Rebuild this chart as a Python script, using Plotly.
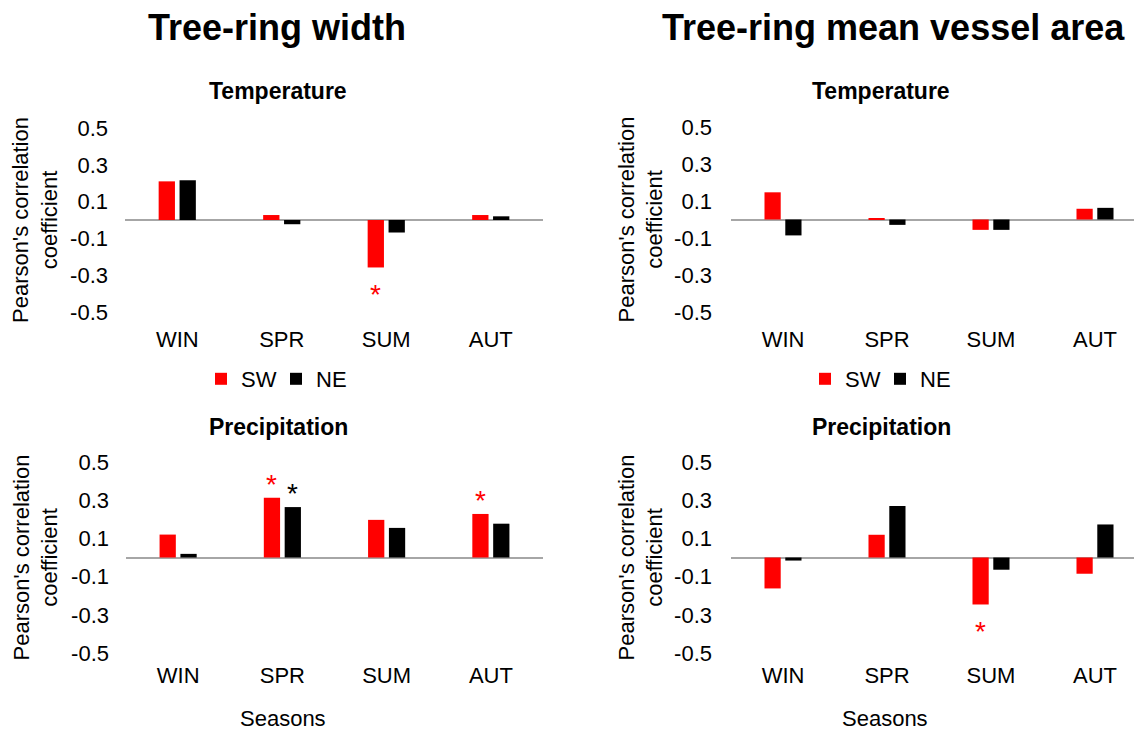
import plotly.graph_objects as go

# ---------------- data ----------------
seasons = ["WIN", "SPR", "SUM", "AUT"]
series_names = ["SW", "NE"]

# Tree-ring width
width_temp_sw = [0.21, 0.027, -0.258, 0.027]
width_temp_ne = [0.216, -0.023, -0.068, 0.02]
width_prec_sw = [0.12, 0.313, 0.197, 0.228]
width_prec_ne = [0.019, 0.264, 0.155, 0.177]

# Tree-ring mean vessel area
vessel_temp_sw = [0.147, 0.007, -0.056, 0.058]
vessel_temp_ne = [-0.086, -0.029, -0.056, 0.063]
vessel_prec_sw = [-0.162, 0.119, -0.246, -0.085]
vessel_prec_ne = [-0.016, 0.27, -0.064, 0.173]

# significance flags (asterisks)
width_temp_sig_sw = [False, False, True, False]
width_temp_sig_ne = [False, False, False, False]
width_prec_sig_sw = [False, True, False, True]
width_prec_sig_ne = [False, True, False, False]
vessel_temp_sig_sw = [False, False, False, False]
vessel_temp_sig_ne = [False, False, False, False]
vessel_prec_sig_sw = [False, False, True, False]
vessel_prec_sig_ne = [False, False, False, False]

ytick_vals = [-0.5, -0.3, -0.1, 0.1, 0.3, 0.5]
ytick_text = ["-0.5", "-0.3", "-0.1", "0.1", "0.3", "0.5"]

column_titles = ["Tree-ring width", "Tree-ring mean vessel area"]
row_titles = ["Temperature", "Precipitation"]
y_title = "Pearson's correlation<br>coefficient"
x_title = "Seasons"

# ---------------- styling ----------------
W, H = 1142, 733
OFF = 8  # page body margin
FONT = "Arial, Liberation Sans, sans-serif"
RED = "#ff0000"
BLACK = "#000000"
colors = [RED, BLACK]

def px(x):
    return (x - OFF) / W

def py(y):
    return 1 - (y - OFF) / H

panels = [
    ("", width_temp_sw, width_temp_ne, width_temp_sig_sw, width_temp_sig_ne, (125, 543), (128, 312)),
    ("2", vessel_temp_sw, vessel_temp_ne, vessel_temp_sig_sw, vessel_temp_sig_ne, (731, 1147), (127, 312)),
    ("3", width_prec_sw, width_prec_ne, width_prec_sig_sw, width_prec_sig_ne, (126, 543), (462, 653)),
    ("4", vessel_prec_sw, vessel_prec_ne, vessel_prec_sig_sw, vessel_prec_sig_ne, (731, 1147), (462, 653)),
]

fig = go.Figure()
annotations = []
slot_px = 10.5

for i, (sfx, sw, ne, sig_sw, sig_ne, xd, yd) in enumerate(panels):
    xa = "x" + sfx
    ya = "y" + sfx
    legend_name = None
    if i == 0:
        legend_name = "legend"
    elif i == 1:
        legend_name = "legend2"
    for k, (vals, name) in enumerate(zip([sw, ne], series_names)):
        fig.add_trace(go.Bar(
            x=seasons, y=vals, name=name, marker=dict(color=colors[k], line=dict(width=0)),
            xaxis=xa, yaxis=ya, showlegend=legend_name is not None,
            legend=legend_name if legend_name else "legend",
        ))
    fig.layout["xaxis" + sfx] = dict(
        domain=[px(xd[0]), px(xd[1])], anchor=ya, range=[-0.5, 3.5],
        showline=False, showgrid=False, zeroline=False, ticks="", automargin=False,
        tickfont=dict(family=FONT, size=22, color="#000"),
        ticklabelstandoff=12 if i < 2 else 7, fixedrange=True,
    )
    fig.layout["yaxis" + sfx] = dict(
        domain=[py(yd[1]), py(yd[0])], anchor=xa, range=[-0.5, 0.5],
        tickvals=ytick_vals, ticktext=ytick_text, automargin=False,
        showline=False, showgrid=False, zeroline=True, zerolinecolor="#a6a6a6",
        zerolinewidth=2, ticks="", tickfont=dict(family=FONT, size=22, color="#000"),
        ticklabelstandoff=16 if i % 2 == 0 else 18, fixedrange=True,
    )
    # asterisks
    for k, (vals, sigs) in enumerate(zip([sw, ne], [sig_sw, sig_ne])):
        for s, v, g in zip(seasons, vals, sigs):
            if g:
                annotations.append(dict(
                    x=s, y=v, xref=xa, yref=ya, text="*", showarrow=False,
                    xshift=(-slot_px if k == 0 else slot_px),
                    yanchor="bottom" if v > 0 else "top",
                    yshift=-4 if v > 0 else -10,
                    font=dict(family=FONT, size=28, color=colors[k]),
                ))
    # y-axis title
    cx = 35 if i % 2 == 0 else 640
    cy = (yd[0] + yd[1]) / 2
    annotations.append(dict(
        x=px(cx), y=py(cy), xref="paper", yref="paper", text=y_title, textangle=-90,
        showarrow=False, xanchor="center", yanchor="middle",
        font=dict(family=FONT, size=22, color="#000"),
    ))

# column titles
for t, cx in zip(column_titles, [277, 893]):
    annotations.append(dict(
        x=px(cx), y=py(28), xref="paper", yref="paper", text="<b>" + t + "</b>",
        showarrow=False, xanchor="center", yanchor="middle",
        font=dict(family=FONT, size=36, color="#000"),
    ))
# row titles
for r, cy in zip(row_titles, [91, 427]):
    for cx in [278, 881]:
        annotations.append(dict(
            x=px(cx), y=py(cy), xref="paper", yref="paper", text="<b>" + r + "</b>",
            showarrow=False, xanchor="center", yanchor="middle",
            font=dict(family=FONT, size=23, color="#000"),
        ))
# x titles
for cx in [283, 885]:
    annotations.append(dict(
        x=px(cx), y=py(718), xref="paper", yref="paper", text=x_title,
        showarrow=False, xanchor="center", yanchor="middle",
        font=dict(family=FONT, size=22, color="#000"),
    ))

legend_style = dict(
    orientation="h", xanchor="center", yanchor="middle", y=py(379),
    font=dict(family=FONT, size=22, color="#000"), bgcolor="rgba(0,0,0,0)",
    itemwidth=30, traceorder="normal", entrywidthmode="pixels", entrywidth=30,
)
fig.update_layout(
    template="none",
    width=W, height=H, margin=dict(l=0, r=0, t=0, b=0, pad=0, autoexpand=False),
    paper_bgcolor="white", plot_bgcolor="white",
    barmode="group", bargap=0.6, bargroupgap=0.22,
    annotations=annotations,
    legend=dict(x=px(276), **legend_style),
    legend2=dict(x=px(880), **legend_style),
    font=dict(family=FONT),
)

fig.write_html("out.html")
